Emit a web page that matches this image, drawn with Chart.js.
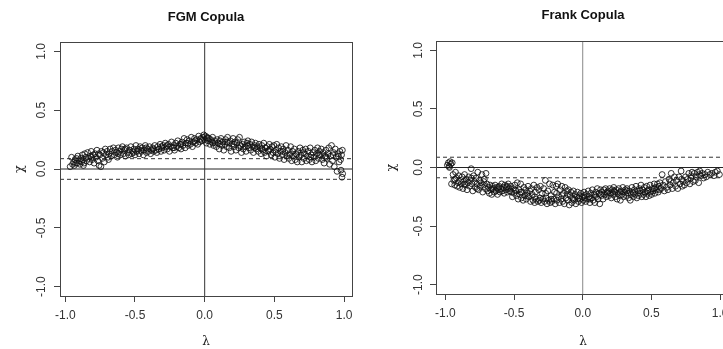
<!DOCTYPE html>
<html>
<head>
<meta charset="utf-8">
<script src="https://cdn.jsdelivr.net/npm/chart.js@4.4.0/dist/chart.umd.min.js"></script>
<style>
  html, body { margin: 0; padding: 0; background: #fff; overflow: hidden; width: 723px; height: 349px; }
  canvas { position: absolute; top: 0; }
  #fgmChart { left: 0; }
  #frankChart { left: 362px; }
</style>
</head>
<body>
<canvas id="fgmChart" width="362" height="349"></canvas>
<canvas id="frankChart" width="368" height="349"></canvas>
<script>
// axis ticks shared by both panels
const xTicks = [-1, -0.5, 0, 0.5, 1];
const yTicks = [-1, -0.5, 0, 0.5, 1];
const yRange = [-1.08, 1.08];
const fgmXRange = [-1.038, 1.057];
const frankXRange = [-1.068, 1.072];
// dashed band, roughly 1.96 / sqrt(n)
const bandLimit = 0.0877;

// [lambda, chi]
const fgmPoints = [
  [-0.965,0.02],[-0.955,0.10],[-0.948,0.04],[-0.94,0.06],[-0.935,0.03],[-0.93,0.08],[-0.925,0.05],
  [-0.915,0.05],[-0.91,0.11],[-0.90,0.07],[-0.895,0.04],[-0.888,0.09],[-0.882,0.06],[-0.877,0.12],
  [-0.872,0.08],[-0.866,0.05],[-0.86,0.13],[-0.853,0.10],[-0.847,0.07],[-0.84,0.14],[-0.833,0.09],
  [-0.826,0.06],[-0.82,0.11],[-0.814,0.15],[-0.807,0.08],[-0.80,0.12],[-0.793,0.05],[-0.786,0.13],
  [-0.78,0.10],[-0.773,0.16],[-0.766,0.07],[-0.758,0.03],[-0.752,0.12],[-0.745,0.02],[-0.74,0.15],
  [-0.734,0.09],[-0.727,0.14],[-0.72,0.06],[-0.713,0.17],[-0.706,0.12],[-0.70,0.15],[-0.692,0.10],
  [-0.685,0.13],[-0.678,0.17],[-0.67,0.11],[-0.663,0.15],[-0.655,0.18],[-0.648,0.12],[-0.64,0.16],
  [-0.633,0.14],[-0.626,0.10],[-0.619,0.18],[-0.612,0.15],[-0.604,0.12],[-0.597,0.17],[-0.59,0.19],
  [-0.583,0.13],[-0.576,0.16],[-0.568,0.11],[-0.56,0.18],[-0.553,0.14],[-0.545,0.12],[-0.538,0.16],
  [-0.53,0.19],[-0.523,0.13],[-0.516,0.15],[-0.508,0.17],[-0.50,0.12],[-0.493,0.20],[-0.486,0.15],
  [-0.478,0.17],[-0.47,0.13],[-0.463,0.19],[-0.455,0.15],[-0.448,0.18],[-0.44,0.12],[-0.433,0.16],
  [-0.426,0.20],[-0.418,0.14],[-0.41,0.17],[-0.403,0.15],[-0.396,0.19],[-0.388,0.13],[-0.38,0.16],
  [-0.373,0.18],[-0.366,0.15],[-0.358,0.20],[-0.35,0.16],[-0.343,0.14],[-0.336,0.19],[-0.328,0.17],
  [-0.32,0.21],[-0.313,0.15],[-0.306,0.18],[-0.298,0.20],[-0.29,0.16],[-0.283,0.22],[-0.276,0.19],
  [-0.268,0.17],[-0.26,0.21],[-0.253,0.15],[-0.246,0.19],[-0.238,0.23],[-0.23,0.18],[-0.223,0.20],
  [-0.216,0.16],[-0.208,0.22],[-0.20,0.19],[-0.193,0.24],[-0.186,0.18],[-0.178,0.21],[-0.17,0.17],
  [-0.163,0.23],[-0.156,0.20],[-0.148,0.26],[-0.14,0.18],[-0.133,0.22],[-0.126,0.25],[-0.118,0.20],
  [-0.11,0.24],[-0.103,0.21],[-0.096,0.27],[-0.088,0.19],[-0.08,0.23],[-0.073,0.26],[-0.066,0.22],
  [-0.058,0.25],[-0.05,0.21],[-0.043,0.28],[-0.036,0.23],[-0.028,0.26],[-0.02,0.24],[-0.013,0.27],
  [-0.006,0.29],[0.0,0.25],[0.006,0.28],[0.012,0.22],[0.018,0.27],[0.024,0.24],[0.03,0.26],
  [0.037,0.21],[0.044,0.25],[0.05,0.23],[0.057,0.27],[0.064,0.20],[0.07,0.24],[0.077,0.22],
  [0.084,0.19],[0.09,0.25],[0.097,0.22],[0.104,0.17],[0.11,0.24],[0.117,0.26],[0.124,0.20],
  [0.13,0.23],[0.137,0.16],[0.144,0.21],[0.15,0.25],[0.157,0.19],[0.164,0.27],[0.17,0.22],
  [0.177,0.18],[0.184,0.24],[0.19,0.15],[0.197,0.21],[0.204,0.26],[0.21,0.19],[0.217,0.23],
  [0.224,0.16],[0.23,0.22],[0.237,0.25],[0.244,0.18],[0.25,0.27],[0.257,0.20],[0.264,0.14],
  [0.27,0.21],[0.277,0.17],[0.284,0.23],[0.29,0.19],[0.297,0.15],[0.304,0.22],[0.31,0.24],
  [0.317,0.18],[0.324,0.21],[0.33,0.16],[0.337,0.23],[0.344,0.19],[0.35,0.14],[0.357,0.20],
  [0.364,0.22],[0.37,0.17],[0.377,0.19],[0.384,0.15],[0.39,0.21],[0.397,0.18],[0.404,0.13],
  [0.41,0.20],[0.417,0.16],[0.424,0.22],[0.43,0.14],[0.437,0.18],[0.444,0.11],[0.45,0.19],
  [0.457,0.15],[0.464,0.21],[0.47,0.17],[0.477,0.12],[0.484,0.19],[0.49,0.14],[0.497,0.20],
  [0.504,0.10],[0.51,0.16],[0.517,0.21],[0.524,0.13],[0.53,0.18],[0.537,0.09],[0.544,0.15],
  [0.55,0.19],[0.557,0.12],[0.564,0.17],[0.57,0.08],[0.577,0.14],[0.584,0.20],[0.59,0.11],
  [0.597,0.16],[0.604,0.09],[0.61,0.13],[0.617,0.19],[0.624,0.07],[0.63,0.15],[0.637,0.11],
  [0.644,0.17],[0.65,0.08],[0.657,0.13],[0.664,0.06],[0.67,0.15],[0.677,0.10],[0.684,0.18],
  [0.69,0.12],[0.697,0.06],[0.704,0.16],[0.71,0.09],[0.717,0.13],[0.724,0.17],[0.73,0.07],
  [0.737,0.11],[0.744,0.15],[0.75,0.08],[0.757,0.18],[0.764,0.12],[0.77,0.06],[0.777,0.14],
  [0.784,0.10],[0.79,0.16],[0.797,0.07],[0.804,0.13],[0.81,0.18],[0.817,0.09],[0.824,0.15],
  [0.83,0.12],[0.837,0.17],[0.844,0.08],[0.85,0.14],[0.857,0.05],[0.864,0.11],[0.87,0.16],
  [0.877,0.09],[0.884,0.13],[0.89,0.18],[0.897,0.04],[0.904,0.11],[0.91,0.20],[0.917,0.07],
  [0.924,0.14],[0.93,0.02],[0.937,0.17],[0.944,0.10],[0.95,-0.02],[0.957,0.13],[0.964,0.06],
  [0.97,0.15],[0.975,0.08],[0.978,-0.01],[0.982,0.12],[0.985,-0.07],[0.988,0.16],[0.99,-0.04],
  [-0.92,0.09],[-0.87,0.03],[-0.81,0.10],[-0.76,0.13],[-0.69,0.08],[-0.62,0.13],[-0.57,0.17],
  [-0.51,0.14],[-0.46,0.16],[-0.42,0.18],[-0.37,0.17],[-0.31,0.19],[-0.27,0.20],[-0.22,0.18],
  [-0.17,0.21],[-0.12,0.22],[-0.07,0.24],[-0.03,0.25],[0.02,0.26],[0.06,0.22],[0.11,0.21],
  [0.16,0.23],[0.21,0.21],[0.26,0.19],[0.31,0.20],[0.36,0.18],[0.41,0.17],[0.46,0.16],
  [0.51,0.14],[0.56,0.15],[0.61,0.12],[0.66,0.12],[0.71,0.14],[0.76,0.10],[0.82,0.12],
  [0.87,0.10],[0.92,0.12],[0.96,0.11]
];

// [lambda, chi]
const frankPoints = [
  [-0.985,0.02],[-0.978,0.04],[-0.972,0.01],[-0.966,0.05],[-0.96,0.03],[-0.955,-0.14],[-0.95,0.04],
  [-0.944,-0.06],[-0.938,-0.11],[-0.932,-0.15],[-0.926,-0.04],[-0.92,-0.09],[-0.914,-0.16],[-0.908,-0.13],
  [-0.902,-0.07],[-0.896,-0.17],[-0.89,-0.11],[-0.884,-0.14],[-0.878,-0.08],[-0.872,-0.18],[-0.866,-0.12],
  [-0.86,-0.06],[-0.854,-0.15],[-0.848,-0.10],[-0.842,-0.19],[-0.836,-0.13],[-0.83,-0.08],[-0.824,-0.16],
  [-0.818,-0.11],[-0.812,-0.01],[-0.806,-0.14],[-0.80,-0.20],[-0.794,-0.07],[-0.788,-0.12],[-0.782,-0.17],
  [-0.776,-0.09],[-0.77,-0.14],[-0.764,-0.04],[-0.758,-0.19],[-0.752,-0.11],[-0.746,-0.16],[-0.74,-0.13],
  [-0.734,-0.06],[-0.728,-0.21],[-0.722,-0.15],[-0.716,-0.10],[-0.71,-0.18],[-0.704,-0.05],[-0.698,-0.14],
  [-0.692,-0.20],[-0.686,-0.17],[-0.68,-0.22],[-0.674,-0.15],[-0.668,-0.19],[-0.662,-0.23],[-0.656,-0.16],
  [-0.65,-0.18],[-0.644,-0.21],[-0.638,-0.15],[-0.632,-0.20],[-0.626,-0.17],[-0.62,-0.23],[-0.614,-0.19],
  [-0.608,-0.16],[-0.602,-0.21],[-0.596,-0.18],[-0.59,-0.14],[-0.584,-0.20],[-0.578,-0.17],[-0.572,-0.22],
  [-0.566,-0.15],[-0.56,-0.19],[-0.554,-0.17],[-0.548,-0.21],[-0.542,-0.14],[-0.536,-0.18],[-0.53,-0.20],
  [-0.524,-0.16],[-0.518,-0.21],[-0.512,-0.25],[-0.506,-0.18],[-0.50,-0.22],[-0.494,-0.15],[-0.488,-0.20],
  [-0.482,-0.24],[-0.476,-0.13],[-0.47,-0.27],[-0.464,-0.19],[-0.458,-0.23],[-0.452,-0.14],[-0.446,-0.26],
  [-0.44,-0.21],[-0.434,-0.28],[-0.428,-0.17],[-0.422,-0.24],[-0.416,-0.19],[-0.41,-0.27],[-0.404,-0.22],
  [-0.398,-0.16],[-0.392,-0.25],[-0.386,-0.20],[-0.38,-0.29],[-0.374,-0.18],[-0.368,-0.23],[-0.362,-0.28],
  [-0.356,-0.15],[-0.35,-0.30],[-0.344,-0.21],[-0.338,-0.27],[-0.332,-0.17],[-0.326,-0.29],[-0.32,-0.19],
  [-0.314,-0.28],[-0.308,-0.16],[-0.302,-0.30],[-0.296,-0.22],[-0.29,-0.27],[-0.284,-0.18],[-0.278,-0.29],
  [-0.272,-0.11],[-0.266,-0.26],[-0.26,-0.31],[-0.254,-0.20],[-0.248,-0.28],[-0.242,-0.14],[-0.236,-0.30],
  [-0.23,-0.24],[-0.224,-0.29],[-0.218,-0.15],[-0.212,-0.27],[-0.206,-0.21],[-0.20,-0.31],[-0.194,-0.16],
  [-0.188,-0.28],[-0.182,-0.14],[-0.176,-0.25],[-0.17,-0.30],[-0.164,-0.19],[-0.158,-0.27],[-0.152,-0.16],
  [-0.146,-0.29],[-0.14,-0.22],[-0.134,-0.31],[-0.128,-0.17],[-0.122,-0.26],[-0.116,-0.20],[-0.11,-0.28],
  [-0.104,-0.19],[-0.098,-0.32],[-0.092,-0.24],[-0.086,-0.21],[-0.08,-0.30],[-0.074,-0.26],[-0.068,-0.20],
  [-0.062,-0.28],[-0.056,-0.23],[-0.05,-0.31],[-0.044,-0.25],[-0.038,-0.21],[-0.032,-0.29],[-0.026,-0.24],
  [-0.02,-0.27],[-0.014,-0.22],[-0.008,-0.30],[-0.002,-0.25],[0.004,-0.28],[0.01,-0.21],[0.016,-0.26],
  [0.022,-0.29],[0.028,-0.23],[0.034,-0.27],[0.04,-0.20],[0.046,-0.25],[0.052,-0.30],[0.058,-0.22],
  [0.064,-0.26],[0.07,-0.19],[0.076,-0.28],[0.082,-0.23],[0.088,-0.30],[0.094,-0.21],[0.10,-0.25],
  [0.106,-0.18],[0.112,-0.27],[0.118,-0.22],[0.124,-0.31],[0.13,-0.19],[0.136,-0.24],[0.142,-0.21],
  [0.148,-0.27],[0.154,-0.19],[0.16,-0.23],[0.166,-0.18],[0.172,-0.25],[0.178,-0.21],[0.184,-0.20],
  [0.19,-0.24],[0.196,-0.18],[0.202,-0.22],[0.208,-0.26],[0.214,-0.19],[0.22,-0.23],[0.226,-0.17],
  [0.232,-0.21],[0.238,-0.25],[0.244,-0.19],[0.25,-0.27],[0.256,-0.22],[0.262,-0.18],[0.268,-0.24],
  [0.274,-0.28],[0.28,-0.20],[0.286,-0.23],[0.292,-0.17],[0.298,-0.25],[0.304,-0.21],[0.31,-0.19],
  [0.316,-0.24],[0.322,-0.18],[0.328,-0.22],[0.334,-0.26],[0.34,-0.20],[0.346,-0.28],[0.352,-0.23],
  [0.358,-0.17],[0.364,-0.21],[0.37,-0.25],[0.376,-0.19],[0.382,-0.23],[0.388,-0.16],[0.394,-0.26],
  [0.40,-0.20],[0.406,-0.24],[0.412,-0.18],[0.418,-0.22],[0.424,-0.15],[0.43,-0.25],[0.436,-0.19],
  [0.442,-0.23],[0.448,-0.17],[0.454,-0.21],[0.46,-0.25],[0.466,-0.16],[0.472,-0.22],[0.478,-0.19],
  [0.484,-0.24],[0.49,-0.15],[0.496,-0.21],[0.502,-0.23],[0.508,-0.18],[0.514,-0.20],[0.52,-0.14],
  [0.526,-0.22],[0.532,-0.17],[0.538,-0.19],[0.544,-0.14],[0.55,-0.21],[0.556,-0.16],[0.562,-0.13],
  [0.57,-0.18],[0.578,-0.06],[0.586,-0.15],[0.594,-0.20],[0.602,-0.12],[0.61,-0.17],
  [0.62,-0.19],[0.628,-0.10],[0.636,-0.15],[0.644,-0.05],[0.652,-0.18],[0.66,-0.13],[0.668,-0.08],
  [0.676,-0.16],[0.684,-0.11],[0.692,-0.18],[0.70,-0.08],[0.708,-0.14],[0.716,-0.03],[0.724,-0.16],
  [0.732,-0.12],[0.74,-0.15],[0.748,-0.08],[0.756,-0.13],[0.764,-0.10],[0.772,-0.05],[0.78,-0.14],
  [0.788,-0.09],[0.796,-0.04],[0.804,-0.12],[0.812,-0.05],[0.82,-0.11],[0.828,-0.08],[0.836,-0.04],
  [0.844,-0.13],[0.852,-0.03],[0.86,-0.07],[0.87,-0.05],[0.88,-0.09],[0.89,-0.06],[0.90,-0.08],
  [0.91,-0.04],[0.925,-0.06],[0.94,-0.05],[0.955,-0.07],[0.965,-0.04],[0.98,-0.03],[0.995,-0.06],
  [-0.97,0.0],[-0.93,-0.10],[-0.86,-0.14],[-0.81,-0.09],[-0.77,-0.18],[-0.72,-0.12],[-0.66,-0.18],
  [-0.61,-0.17],[-0.55,-0.16],[-0.49,-0.19],[-0.45,-0.21],[-0.40,-0.24],[-0.35,-0.25],[-0.31,-0.26],
  [-0.27,-0.22],[-0.23,-0.27],[-0.19,-0.22],[-0.15,-0.24],[-0.11,-0.23],[-0.07,-0.27],[-0.03,-0.26],
  [0.01,-0.24],[0.05,-0.27],[0.09,-0.24],[0.13,-0.23],[0.18,-0.22],[0.23,-0.20],[0.27,-0.21],
  [0.32,-0.20],[0.37,-0.22],[0.42,-0.20],[0.47,-0.20],[0.52,-0.18],[0.56,-0.19],[0.64,-0.12],
  [0.72,-0.10],[0.79,-0.07],[0.85,-0.06]
];

const tickFont = { family: '"Liberation Sans", Arial, sans-serif', size: 12 };
const symbolFont = { family: '"DejaVu Serif", serif', size: 12 };

// R-like frame: box around the plot, rotated y labels, title over the plot region
const rFrame = {
  id: 'rFrame',
  afterDraw(chart, args, opts) {
    const { ctx, chartArea: a, scales } = chart;
    ctx.save();
    ctx.strokeStyle = '#444';
    ctx.lineWidth = 1;
    ctx.strokeRect(Math.round(a.left) + 0.5, Math.round(a.top) + 0.5,
      Math.round(a.right - a.left), Math.round(a.bottom - a.top));

    ctx.fillStyle = '#333';
    ctx.font = '12px "Liberation Sans", Arial, sans-serif';
    ctx.textAlign = 'center';
    ctx.textBaseline = 'middle';
    yTicks.forEach(v => {
      ctx.save();
      ctx.translate(a.left - opts.yLabelGap, scales.y.getPixelForValue(v));
      ctx.rotate(-Math.PI / 2);
      ctx.fillText(v.toFixed(1), 0, 0);
      ctx.restore();
    });

    ctx.fillStyle = '#111';
    ctx.font = 'bold 13px "Liberation Sans", Arial, sans-serif';
    ctx.fillText(opts.title, (a.left + a.right) / 2, opts.titleY);
    ctx.restore();
  }
};

function rPanel(canvasId, cfg) {
  const hline = y => cfg.xRange.map(x => ({ x, y }));
  const refLine = (data, color, dash) => ({
    data, showLine: true, borderColor: color, borderWidth: 1,
    borderDash: dash || [], pointRadius: 0, fill: false
  });

  return new Chart(document.getElementById(canvasId), {
    type: 'scatter',
    data: {
      datasets: [
        {
          data: cfg.points.map(([x, y]) => ({ x, y })),
          pointRadius: 2.9,
          pointBorderWidth: 0.85,
          pointBorderColor: '#111',
          pointBackgroundColor: 'rgba(0,0,0,0)'
        },
        refLine(yRange.map(y => ({ x: 0, y })), cfg.vColor),
        refLine(hline(0), '#222'),
        refLine(hline(bandLimit), '#333', [4, 3]),
        refLine(hline(-bandLimit), '#333', [4, 3])
      ]
    },
    options: {
      responsive: false,
      animation: false,
      events: [],
      layout: { padding: cfg.padding, autoPadding: false },
      plugins: {
        legend: { display: false },
        tooltip: { enabled: false },
        rFrame: { title: cfg.title, titleY: cfg.titleY, yLabelGap: cfg.yLabelGap }
      },
      scales: {
        x: {
          type: 'linear',
          min: cfg.xRange[0],
          max: cfg.xRange[1],
          afterBuildTicks: s => { s.ticks = xTicks.map(value => ({ value })); },
          afterFit: s => { s.height = cfg.xAxisHeight; s.paddingLeft = 0; s.paddingRight = 0; },
          grid: { drawOnChartArea: false, drawTicks: true, tickLength: 6, color: '#444' },
          border: { display: true, color: '#444' },
          ticks: {
            padding: 6, color: '#333', font: tickFont, maxRotation: 0, autoSkip: false,
            callback: v => v.toFixed(1)
          },
          title: { display: true, text: 'λ', color: '#222', font: symbolFont, padding: { top: 0, bottom: 0 } }
        },
        y: {
          type: 'linear',
          min: yRange[0],
          max: yRange[1],
          afterBuildTicks: s => { s.ticks = yTicks.map(value => ({ value })); },
          afterFit: s => { s.width = cfg.yAxisWidth; s.paddingTop = 0; s.paddingBottom = 0; },
          grid: { drawOnChartArea: false, drawTicks: true, tickLength: 6, color: '#444' },
          border: { display: true, color: '#444' },
          ticks: { display: false },
          title: {
            display: true, text: 'χ', color: '#222',
            font: { family: '"DejaVu Serif", serif', size: 13 },
            padding: { top: cfg.yTitleGap, bottom: 0 }
          }
        }
      }
    },
    plugins: [rFrame]
  });
}

rPanel('fgmChart', {
  title: 'FGM Copula',
  points: fgmPoints,
  xRange: fgmXRange,
  vColor: '#333',
  padding: { top: 42, right: 10, bottom: 0, left: 0 },
  xAxisHeight: 53,
  yAxisWidth: 60,
  yLabelGap: 18.3,
  yTitleGap: 12,
  titleY: 17.5
});

rPanel('frankChart', {
  title: 'Frank Copula',
  points: frankPoints,
  xRange: frankXRange,
  vColor: '#888',
  padding: { top: 41, right: 0, bottom: 0, left: 0 },
  xAxisHeight: 55,
  yAxisWidth: 74,
  yLabelGap: 17,
  yTitleGap: 22,
  titleY: 15.5
});
</script>
</body>
</html>
